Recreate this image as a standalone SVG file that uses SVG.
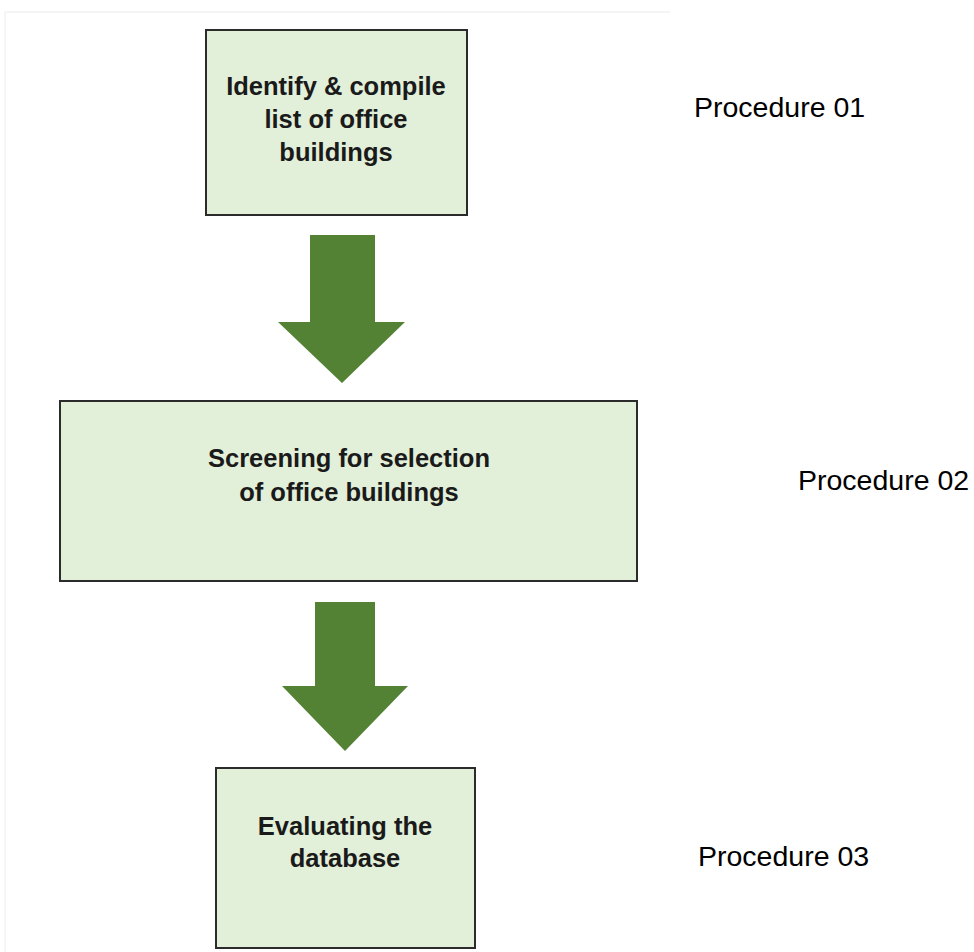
<svg xmlns="http://www.w3.org/2000/svg" width="974" height="952" viewBox="0 0 974 952">
  <style>
    .box { fill: #e2efd9; stroke: #2b2b2b; stroke-width: 2; }
    .arrow { fill: #548235; }
    .label { font-family: "Liberation Sans", Arial, sans-serif; font-weight: bold; font-size: 25.5px; fill: #1a1a1a; text-anchor: middle; }
    .side { font-family: "Liberation Sans", Arial, sans-serif; font-size: 28.5px; fill: #000; }
  </style>
  <rect width="974" height="952" fill="#ffffff"/>
  <!-- faint frame edges -->
  <path d="M5 12 H670 M5 12 V952" fill="none" stroke="#f2f2f2" stroke-width="1.5"/>

  <g id="step1">
    <rect class="box" x="206" y="30" width="261" height="185"/>
    <text class="label" x="336" y="95">Identify &amp; compile</text>
    <text class="label" x="336" y="128">list of office</text>
    <text class="label" x="336" y="161">buildings</text>
  </g>

  <g id="step2">
    <rect class="box" x="60" y="401" width="577" height="180"/>
    <text class="label" x="349" y="467">Screening for selection</text>
    <text class="label" x="349" y="501">of office buildings</text>
  </g>

  <g id="step3">
    <rect class="box" x="216" y="768" width="259" height="180"/>
    <text class="label" x="345" y="835">Evaluating the</text>
    <text class="label" x="345" y="867">database</text>
  </g>

  <g id="connectors">
    <polygon class="arrow" points="310,235 375,235 375,322 405,322 342,383 278,322 310,322"/>
    <polygon class="arrow" points="315,602 375,602 375,686 408,686 345,751 282,686 315,686"/>
  </g>

  <g id="procedures">
    <text class="side" x="694" y="117">Procedure 01</text>
    <text class="side" x="798" y="490">Procedure 02</text>
    <text class="side" x="698" y="866">Procedure 03</text>
  </g>
</svg>
